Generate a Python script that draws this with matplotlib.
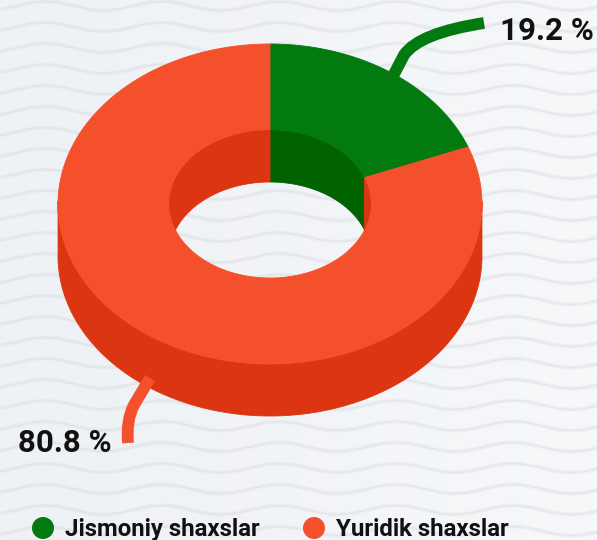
import numpy as np
import matplotlib
matplotlib.use("Agg")
import matplotlib.pyplot as plt
from matplotlib.patches import Polygon, Circle, PathPatch
from matplotlib.path import Path
from matplotlib.colors import LinearSegmentedColormap

# ---- data ----
categories = ["Jismoniy shaxslar", "Yuridik shaxslar"]
values = [19.2, 80.8]
value_labels = ["19.2 %", "80.8 %"]
top_colors = ["#037a10", "#f5502c"]
side_colors = ["#016200", "#dc3511"]

plt.rcParams['font.family'] = ['Roboto', 'DejaVu Sans']

W, H = 597, 540
fig = plt.figure(figsize=(W / 100, H / 100), dpi=100)
ax = fig.add_axes([0, 0, 1, 1])
ax.set_xlim(0, W)
ax.set_ylim(H, 0)
ax.axis('off')

# ---- background ----
grad = np.linspace(0, 1, 256)[None, :]
bgcm = LinearSegmentedColormap.from_list("bg", ["#eef1f5", "#f6f8fa"])
ax.imshow(grad, cmap=bgcm, extent=[0, W, H, 0], aspect='auto', zorder=0)
xs = np.linspace(0, W, 600)
for k in range(-2, 30):
    y0 = k * 21.0 + 6
    ys = y0 - 4.5 * np.cos(2 * np.pi * (xs - 513) / 117.0)
    ax.plot(xs, ys, color="#dcdee2", lw=3.0, alpha=0.25, zorder=1, solid_capstyle='butt')
    ax.plot(xs, ys, color="#d8dade", lw=1.3, alpha=0.35, zorder=1)

# ---- donut geometry (pixels) ----
cx, cy = 270.0, 204.0
rxo, ryo = 212.0, 160.0
rxi, ryi = 101.0, 74.0
depth = 52.0


def pt(t, rx, ry, dy=0.0):
    return cx + rx * np.cos(t), cy - ry * np.sin(t) + dy


total = sum(values)
fr = np.cumsum([0] + values) / total
slices = []
for i in range(len(values)):
    a0 = np.pi / 2 - 2 * np.pi * fr[i]
    a1 = np.pi / 2 - 2 * np.pi * fr[i + 1]
    slices.append((a0, a1))


def runs(mask):
    out = []
    start = None
    for j, m in enumerate(mask):
        if m and start is None:
            start = j
        if not m and start is not None:
            out.append((start, j))
            start = None
    if start is not None:
        out.append((start, len(mask)))
    return out


# outer side (front half)
for (a0, a1), col in zip(slices, side_colors):
    n = max(int(abs(a0 - a1) / np.radians(0.25)), 4)
    t = np.linspace(a0, a1, n)
    mask = np.sin(t) <= 0.02
    for s, e in runs(mask):
        tt = t[s:e]
        if len(tt) < 2:
            continue
        x1, y1 = pt(tt, rxo, ryo)
        x2, y2 = pt(tt[::-1], rxo, ryo, depth)
        poly = np.column_stack([np.r_[x1, x2], np.r_[y1, y2]])
        ax.add_patch(Polygon(poly, closed=True, fc=col, ec=col, lw=0.6, zorder=3))

# top face
for (a0, a1), col in zip(slices, top_colors):
    n = max(int(abs(a0 - a1) / np.radians(0.25)), 4)
    t = np.linspace(a0, a1, n)
    x1, y1 = pt(t, rxo, ryo)
    x2, y2 = pt(t[::-1], rxi, ryi)
    poly = np.column_stack([np.r_[x1, x2], np.r_[y1, y2]])
    ax.add_patch(Polygon(poly, closed=True, fc=col, ec=col, lw=0.6, zorder=4))

# inner wall (back half), clipped to inner ellipse
tc = np.linspace(0, 2 * np.pi, 720)
hx, hy = pt(tc, rxi, ryi)
clip = Polygon(np.column_stack([hx, hy]), closed=True, transform=ax.transData)
for (a0, a1), col in zip(slices, side_colors):
    n = max(int(abs(a0 - a1) / np.radians(0.25)), 4)
    t = np.linspace(a0, a1, n)
    mask = np.sin(t) >= -0.02
    for s, e in runs(mask):
        tt = t[s:e]
        if len(tt) < 2:
            continue
        x1, y1 = pt(tt, rxi, ryi)
        x2, y2 = pt(tt[::-1], rxi, ryi, depth)
        poly = np.column_stack([np.r_[x1, x2], np.r_[y1, y2]])
        p = Polygon(poly, closed=True, fc=col, ec=col, lw=0.6, zorder=5)
        ax.add_patch(p)
        p.set_clip_path(clip)

# ---- connectors ----
green_path = Path([(391, 80), (404, 55), (419, 33), (484, 23)],
                  [Path.MOVETO, Path.LINETO, Path.CURVE3, Path.CURVE3])
ax.add_patch(PathPatch(green_path, fc='none', ec=top_colors[0], lw=8.5,
                       capstyle='butt', joinstyle='round', zorder=6))
red_path = Path([(150, 378), (134, 405), (126, 420), (128, 443)],
                [Path.MOVETO, Path.LINETO, Path.CURVE3, Path.CURVE3])
ax.add_patch(PathPatch(red_path, fc='none', ec=top_colors[1], lw=8.5,
                       capstyle='butt', joinstyle='round', zorder=6))

ax.text(500, 31, value_labels[0], fontsize=22.5, fontweight='bold', color='#111111',
        ha='left', va='center', zorder=7)
ax.text(18, 443, value_labels[1], fontsize=22.5, fontweight='bold', color='#111111',
        ha='left', va='center', zorder=7)

# ---- legend ----
leg_x = [43, 314]
for xcen, col, name in zip(leg_x, top_colors, categories):
    ax.add_patch(Circle((xcen, 528), 11, fc=col, ec='none', zorder=7))
    ax.text(xcen + 22, 536, name, fontsize=17.3, fontweight='bold', color='#111111',
            ha='left', va='baseline', zorder=7)

fig.savefig("out.png", dpi=100)
